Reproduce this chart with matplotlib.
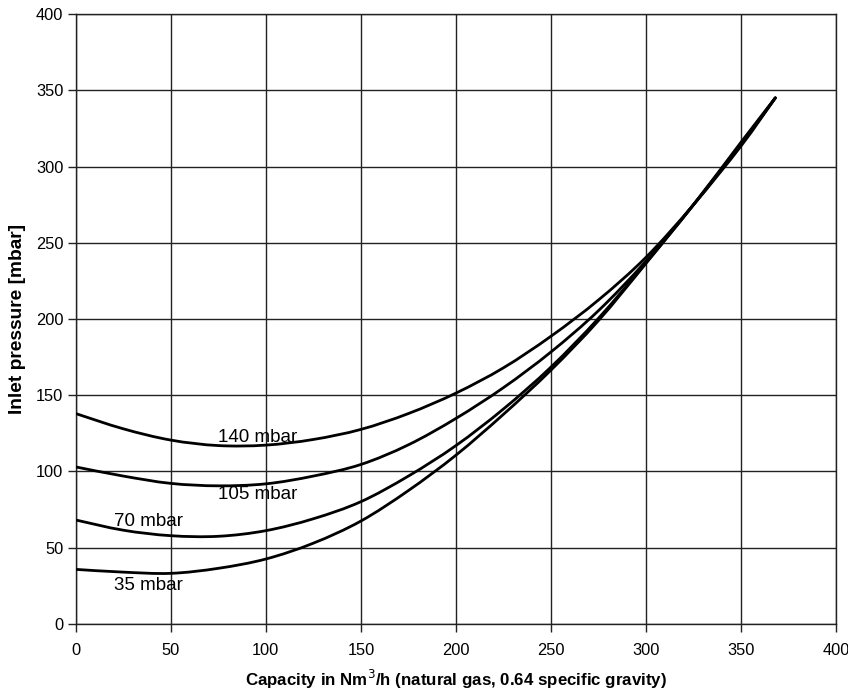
import matplotlib
matplotlib.use("Agg")
import matplotlib.pyplot as plt
from matplotlib.path import Path
from matplotlib.patches import PathPatch
import numpy as np

plt.rcParams['font.family'] = ['Liberation Sans', 'DejaVu Sans']

capacity = [0, 25, 50, 75, 100, 125, 150, 175, 200, 225, 250, 275, 300, 325, 350, 368]
p35 = [35.8, 34.0, 33.2, 36.5, 42.6, 53.0, 67.5, 87.5, 110.7, 137.5, 166.5, 199.0, 236.5, 275.0, 316.0, 345.0]
p70 = [68.2, 61.5, 57.9, 57.5, 61.2, 69.0, 80.2, 97.0, 117.0, 141.0, 168.5, 200.5, 237.0, 275.0, 315.0, 345.0]
p105 = [103.0, 97.0, 92.2, 90.6, 91.9, 97.0, 104.6, 117.5, 134.8, 155.0, 178.4, 205.5, 238.0, 275.0, 314.5, 345.0]
p140 = [138.0, 128.0, 120.6, 117.0, 117.3, 121.0, 127.6, 138.0, 151.4, 168.0, 188.7, 212.5, 240.5, 275.0, 313.5, 345.0]

series = [("35 mbar", p35), ("70 mbar", p70), ("105 mbar", p105), ("140 mbar", p140)]
label_pos = {"35 mbar": (20, 25), "70 mbar": (20, 67), "105 mbar": (75, 85), "140 mbar": (75, 122)}

xticks = list(range(0, 401, 50))
yticks = list(range(0, 401, 50))


def smooth_path(xs, ys):
    """Catmull-Rom through the data points, drawn as cubic Bezier segments."""
    pts = np.column_stack([xs, ys]).astype(float)
    n = len(pts)
    verts = [pts[0]]
    codes = [Path.MOVETO]
    for i in range(n - 1):
        p0 = pts[i - 1] if i > 0 else pts[i]
        p1 = pts[i]
        p2 = pts[i + 1]
        p3 = pts[i + 2] if i + 2 < n else pts[i + 1]
        c1 = p1 + (p2 - p0) / 6.0
        c2 = p2 - (p3 - p1) / 6.0
        verts += [c1, c2, p2]
        codes += [Path.CURVE4, Path.CURVE4, Path.CURVE4]
    return Path(verts, codes)


fig = plt.figure(figsize=(8.48, 6.95), dpi=100)
ax = fig.add_axes([0.0893, 0.1022, 0.8967, 0.8776])

for name, vals in series:
    patch = PathPatch(smooth_path(capacity, vals), facecolor='none', edgecolor='black',
                      lw=2.0, capstyle='round', zorder=3)
    ax.add_patch(patch)
    lx, ly = label_pos[name]
    ax.text(lx, ly, name, fontsize=13.5, ha='left', va='center', zorder=4)

ax.set_xlim(0, 400)
ax.set_ylim(0, 400)
ax.set_xticks(xticks)
ax.set_yticks(yticks)
ax.grid(True, color='#222222', lw=1.0)
ax.set_axisbelow(True)
for s in ax.spines.values():
    s.set_color('#222222')
    s.set_linewidth(1.0)
ax.tick_params(axis='both', labelsize=11.8, length=6, width=1.0, color='#222222', pad=3)
ax.tick_params(axis='x', pad=7.5)
ax.set_xlabel('Capacity in Nm$^3$/h (natural gas, 0.64 specific gravity)', fontsize=12.2,
              fontweight='bold', labelpad=7)
ax.set_ylabel('Inlet pressure [mbar]', fontsize=13.8, fontweight='bold', labelpad=7)

fig.savefig('out.png', dpi=100)
